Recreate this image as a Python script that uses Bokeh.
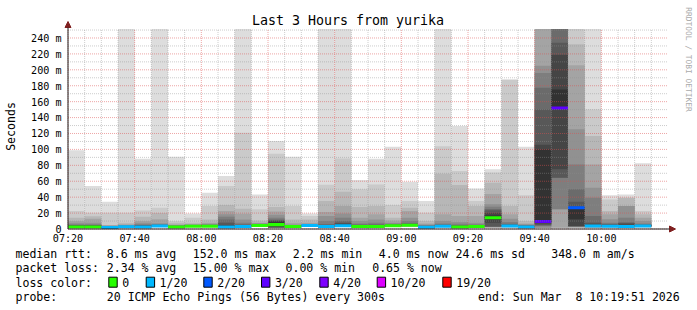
import math
from bokeh.plotting import figure
from bokeh.models import Label, BoxAnnotation, Arrow, NormalHead, Range1d, ColumnDataSource
from bokeh.core.properties import value
from bokeh.embed import file_html
from bokeh.resources import INLINE

# ---------------- data ----------------
times = ["07:20", "07:25", "07:30", "07:35", "07:40", "07:45", "07:50", "07:55",
         "08:00", "08:05", "08:10", "08:15", "08:20", "08:25", "08:30", "08:35",
         "08:40", "08:45", "08:50", "08:55", "09:00", "09:05", "09:10", "09:15",
         "09:20", "09:25", "09:30", "09:35", "09:40", "09:45", "09:50", "09:55",
         "10:00", "10:05", "10:10"]

# median RTT per 5-minute step (ms)
median_ms = [2.5, 2.5, 1.8, 2.8, 2.6, 3.8, 2.5, 3.5, 3.5, 2.5, 3.0, 4.4, 5.5, 3.0,
             4.4, 3.0, 4.0, 3.0, 3.0, 4.0, 4.6, 2.2, 3.5, 2.4, 3.0, 14.2, 3.8, 2.5,
             9.5, 152.0, 26.8, 3.8, 3.5, 3.0, 3.8]

# lost pings out of 20 per step
loss_count = [0, 0, 1, 1, 1, 1, 0, 0, 0, 1, 1, 0, 0, 0, 1, 1, 1, 0, 0, 0, 0, 1, 1,
              0, 0, 0, 1, 1, 3, 3, 2, 1, 1, 1, 1]

# the 20 sorted ping RTTs of each step (ms); None = lost, 300 = off the scale
pings_ms = [
    [1.5, 1.6, 1.7, 1.8, 1.9, 2.0, 2.1, 2.2, 2.3, 2.4, 3.5, 4.0, 4.5, 5.0, 6.0, 8.0, 10.0, 14.2, 22.6, 98.8],
    [1.5, 1.6, 1.7, 1.8, 1.9, 2.0, 2.1, 2.2, 2.3, 2.4, 3.5, 4.0, 4.5, 5.0, 6.0, 8.0, 13.0, 16.0, 20.5, 54.0],
    [1.2, 1.3, 1.4, 1.5, 1.6, 1.7, 1.7, 1.8, 1.8, 1.8, 2.4, 2.6, 2.8, 3.0, 3.5, 4.0, 4.5, 5.0, 20.5, 34.3],
    [1.8, 1.9, 2.0, 2.1, 2.2, 2.3, 2.4, 2.5, 2.6, 2.7, 3.0, 3.3, 3.6, 4.0, 4.5, 5.0, 6.0, 8.0, 20.5, 300],
    [1.6, 1.7, 1.8, 1.9, 2.0, 2.1, 2.2, 2.3, 2.4, 2.5, 3.5, 4.0, 4.5, 5.0, 6.0, 8.0, 10.0, 15.4, 23.4, 88.3],
    [2.2, 2.4, 2.6, 2.8, 3.0, 3.2, 3.4, 3.5, 3.6, 3.7, 4.2, 4.6, 5.0, 5.5, 6.0, 7.1, 12.1, 20.0, 26.8, 300],
    [1.5, 1.6, 1.7, 1.8, 1.9, 2.0, 2.1, 2.2, 2.3, 2.4, 3.0, 3.3, 3.6, 4.0, 4.5, 5.0, 5.8, 8.0, 10.0, 90.8],
    [2.2, 2.4, 2.6, 2.8, 3.0, 3.1, 3.2, 3.3, 3.4, 3.5, 4.2, 4.4, 4.6, 4.8, 5.0, 5.5, 6.0, 8.0, 14.2, 19.6],
    [2.2, 2.4, 2.6, 2.8, 3.0, 3.1, 3.2, 3.3, 3.4, 3.5, 4.0, 4.3, 4.6, 5.0, 5.5, 6.5, 8.0, 12.0, 28.9, 45.6],
    [1.5, 1.6, 1.7, 1.8, 1.9, 2.0, 2.1, 2.2, 2.3, 2.4, 4.0, 5.0, 8.0, 12.0, 15.4, 18.4, 22.6, 30.0, 54.0, 66.6],
    [1.8, 1.9, 2.0, 2.1, 2.2, 2.4, 2.6, 2.8, 2.9, 3.0, 4.0, 4.5, 5.0, 6.0, 8.0, 12.0, 19.2, 25.5, 121.0, 300],
    [2.8, 3.0, 3.2, 3.4, 3.6, 3.8, 4.0, 4.1, 4.2, 4.3, 5.0, 5.5, 5.8, 6.0, 6.5, 7.0, 8.0, 10.8, 24.7, 43.5],
    [1.2, 1.3, 1.4, 1.5, 1.6, 1.7, 1.8, 2.0, 2.5, 5.4, 8.5, 10.0, 11.0, 12.0, 14.2, 18.0, 22.0, 27.6, 94.6, 110.5],
    [1.8, 1.9, 2.0, 2.1, 2.2, 2.4, 2.6, 2.8, 2.9, 3.0, 3.4, 3.7, 4.0, 4.4, 4.8, 5.8, 8.0, 12.0, 28.9, 90.8],
    [2.6, 2.8, 3.0, 3.2, 3.4, 3.6, 3.8, 4.0, 4.2, 4.3, 4.6, 4.8, 5.0, 5.3, 5.8, 6.5, 8.0, 12.0, 16.3, 19.6],
    [1.8, 1.9, 2.0, 2.1, 2.2, 2.4, 2.6, 2.8, 2.9, 3.0, 4.5, 4.9, 5.3, 5.8, 10.0, 16.3, 21.3, 35.1, 55.6, 300],
    [2.2, 2.4, 2.6, 2.8, 3.0, 3.2, 3.4, 3.6, 3.8, 3.9, 5.5, 6.5, 8.0, 10.0, 14.2, 19.6, 28.9, 46.9, 88.7, 300],
    [1.8, 1.9, 2.0, 2.1, 2.2, 2.4, 2.6, 2.8, 2.9, 3.0, 3.8, 4.3, 4.8, 5.5, 7.0, 10.0, 14.2, 27.6, 49.8, 61.5],
    [1.8, 1.9, 2.0, 2.1, 2.2, 2.4, 2.6, 2.8, 2.9, 3.0, 4.0, 4.5, 5.0, 6.0, 8.0, 12.0, 18.4, 28.9, 56.0, 88.3],
    [2.4, 2.6, 2.8, 3.0, 3.2, 3.4, 3.6, 3.8, 3.9, 4.0, 4.5, 4.9, 5.3, 5.8, 6.5, 8.0, 10.8, 14.2, 30.0, 103.4],
    [2.8, 3.0, 3.2, 3.4, 3.6, 3.8, 4.0, 4.2, 4.4, 4.5, 5.1, 5.6, 6.2, 7.5, 10.0, 14.2, 22.6, 26.8, 35.1, 59.4],
    [1.3, 1.4, 1.5, 1.6, 1.7, 1.8, 1.9, 2.0, 2.1, 2.2, 2.9, 3.2, 3.6, 4.0, 4.6, 5.5, 7.0, 10.0, 20.5, 35.1],
    [2.0, 2.2, 2.4, 2.6, 2.8, 3.0, 3.2, 3.3, 3.4, 3.5, 3.9, 4.3, 4.8, 5.5, 7.0, 10.0, 18.4, 69.5, 104.0, 300],
    [1.4, 1.5, 1.6, 1.7, 1.8, 1.9, 2.0, 2.1, 2.2, 2.3, 3.0, 3.5, 4.0, 5.0, 6.5, 8.8, 16.3, 55.2, 72.8, 129.4],
    [1.8, 1.9, 2.0, 2.1, 2.2, 2.4, 2.6, 2.8, 2.9, 3.0, 3.6, 4.0, 4.4, 5.0, 6.0, 8.0, 16.3, 28.9, 35.1, 51.0],
    [1.5, 1.7, 1.9, 2.1, 2.3, 2.5, 2.7, 3.0, 8.0, 12.0, 17.0, 20.0, 23.5, 25.0, 28.0, 31.0, 44.0, 58.0, 71.0, 75.0],
    [1.8, 2.0, 2.2, 2.4, 2.6, 2.8, 3.0, 3.2, 3.4, 3.6, 4.5, 5.0, 5.5, 6.5, 8.8, 13.0, 18.4, 28.9, 188.0, None],
    [1.5, 1.6, 1.7, 1.8, 1.9, 2.0, 2.1, 2.2, 2.3, 2.4, 3.2, 3.5, 4.0, 4.5, 5.0, 6.0, 7.0, 10.0, 42.3, 103.4],
    [None, 1.2, 1.3, 1.4, 1.5, 3.5, 4.0, 5.0, 7.0, 9.5, 100.0, 106.0, 150.0, 177.5, 196.0, 205.0, 300, 300, None, None],
    [None, 1.4, 1.5, 1.6, 24.7, 24.7, 64.5, 64.5, 75.0, 152.0, 175.4, 219.0, 234.0, 300, 300, 300, 300, 300, None, None],
    [None, 1.6, 1.8, 2.0, 2.4, 2.8, 3.2, 3.6, 3.8, 12.1, 26.8, 28.0, 34.3, 49.8, 81.2, 125.2, 205.6, 232.0, 300, None],
    [1.5, 1.7, 1.9, 2.1, 2.3, 2.5, 2.7, 2.9, 3.2, 3.5, 4.5, 5.5, 8.0, 16.3, 39.3, 51.9, 81.2, 116.8, 150.3, 300],
    [1.8, 2.0, 2.2, 2.4, 2.6, 2.8, 3.0, 3.2, 3.3, 3.4, 4.5, 5.0, 5.5, 6.5, 8.0, 12.1, 18.4, 22.6, 37.2, 42.5],
    [1.5, 1.7, 1.9, 2.1, 2.3, 2.5, 2.7, 2.8, 2.9, 3.0, 4.5, 5.5, 8.0, 8.0, 14.2, 28.9, 28.9, 39.3, 39.3, 43.5],
    [2.0, 2.2, 2.4, 2.6, 2.8, 3.0, 3.2, 3.4, 3.6, 3.7, 4.4, 4.8, 5.2, 5.8, 7.0, 10.0, 14.2, 18.4, 22.6, 82.5],
]

x_tick_labels = ["07:20", "07:40", "08:00", "08:20", "08:40", "09:00", "09:20", "09:40", "10:00"]
y_tick_values = [0, 20, 40, 60, 80, 100, 120, 140, 160, 180, 200, 220, 240]
y_tick_labels = ["0", "20 m", "40 m", "60 m", "80 m", "100 m", "120 m", "140 m", "160 m",
                 "180 m", "200 m", "220 m", "240 m"]

loss_levels = [0, 1, 2, 3, 4, 10, 19]
loss_level_labels = ["0", "1/20", "2/20", "3/20", "4/20", "10/20", "19/20"]
loss_colors = ["#26ff00", "#00b8ff", "#0059ff", "#5e00ff", "#7e00ff", "#dd00ff", "#ff0000"]

title_text = "Last 3 Hours from yurika"
stats_rtt = ["8.6 ms avg", "152.0 ms max", "2.2 ms min", "4.0 ms now", "24.6 ms sd", "348.0 m am/s"]
stats_loss = ["2.34 % avg", "15.00 % max", "0.00 % min", "0.65 % now"]
probe_text = "20 ICMP Echo Pings (56 Bytes) every 300s"
end_text = "end: Sun Mar\u00a0 8 10:19:51 2026"

# ---------------- layout ----------------
W, H = 697, 310
X0_PX, Y0_PX = 67.5, 228.5          # page position of 07:20 / 0 ms
SPAN_MIN, Y_TOP = 180, 251.3
PX_PER_MIN = 600 / SPAN_MIN
PX_PER_MS = 200 / Y_TOP
STEP = 5
MED_HALF = 1.9
MONO = "DejaVu Sans Mono"
BASE_FIX = 0.33                      # baseline correction (em) for the renderer


def minutes(t):
    h, m = t.split(":")
    return int(h) * 60 + int(m) - (7 * 60 + 20)


def dx(px):   # page-pixel offset -> minutes
    return px / PX_PER_MIN


def dy(px):   # page-pixel offset (downwards) -> ms
    return -px / PX_PER_MS


x0 = [minutes(t) for t in times]

p = figure(width=W, height=H, min_border=0,
           x_range=Range1d(-dx(X0_PX), dx(W - X0_PX)),
           y_range=Range1d(dy(H - Y0_PX), -dy(Y0_PX)),
           x_axis_location=None, y_axis_location=None,
           toolbar_location=None, output_backend="svg", title=None)
p.grid.visible = False
p.outline_line_color = None
p.background_fill_color = "white"
p.border_fill_color = "white"

# smoke bands (outer -> inner, lighter -> darker)
half = 10
for k in range(1, half + 1):
    g = int(190 / half * (half - k)) + 50
    color = "#%02x%02x%02x" % (g, g, g)
    L, R, B, T = [], [], [], []
    for i, row in enumerate(pings_ms):
        lo, hi = row[k - 1], row[20 - k]
        if lo is None or hi is None:
            continue
        L.append(x0[i]); R.append(x0[i] + STEP)
        B.append(min(lo, Y_TOP)); T.append(min(hi, Y_TOP))
    p.quad(left=L, right=R, bottom=B, top=T, fill_color=color, line_color=None)


def loss_color(n):
    c = loss_colors[0]
    for lv, col in zip(loss_levels, loss_colors):
        if n >= lv:
            c = col
    return c


p.quad(left=x0, right=[x + STEP for x in x0],
       bottom=[max(m - MED_HALF, 0) for m in median_ms], top=[m + MED_HALF for m in median_ms],
       fill_color=[loss_color(n) for n in loss_count], line_color=None)

# grid
x_major = [minutes(t) for t in x_tick_labels]
x_minor = [v for v in range(0, SPAN_MIN, STEP) if v not in x_major]
y_minor = list(range(10, 260, 20))
p.segment(x0=x_minor, x1=x_minor, y0=[0] * len(x_minor), y1=[Y_TOP] * len(x_minor),
          line_color="#8f8f8f", line_alpha=0.45, line_dash="1 1", line_width=1)
p.segment(x0=[0] * len(y_minor), x1=[SPAN_MIN] * len(y_minor), y0=y_minor, y1=y_minor,
          line_color="#8f8f8f", line_alpha=0.45, line_dash="1 1", line_width=1)
p.segment(x0=x_major, x1=x_major, y0=[0] * len(x_major), y1=[Y_TOP] * len(x_major),
          line_color="#de4f4f", line_alpha=0.5, line_dash="1 1", line_width=1)
p.segment(x0=[0] * len(y_tick_values), x1=[SPAN_MIN] * len(y_tick_values),
          y0=y_tick_values, y1=y_tick_values,
          line_color="#de4f4f", line_alpha=0.5, line_dash="1 1", line_width=1)

# axis lines with arrows
p.add_layout(Arrow(x_start=0, y_start=0, x_end=dx(675 - X0_PX), y_end=0,
                   line_color="#1f1f1f", line_width=1,
                   end=NormalHead(size=6, fill_color="#7f1f1f", line_color="#7f1f1f")))
p.add_layout(Arrow(x_start=0, y_start=0, x_end=0, y_end=-dy(Y0_PX - 21),
                   line_color="#1f1f1f", line_width=1,
                   end=NormalHead(size=6, fill_color="#7f1f1f", line_color="#7f1f1f")))

# tick labels
TICK_PX = 10.1
xt = ColumnDataSource(dict(x=x_major, y=[dy(13.3 - BASE_FIX * TICK_PX)] * len(x_major),
                           text=x_tick_labels))
p.text(x="x", y="y", text="text", source=xt, text_font=value(MONO),
       text_font_size=value("%.1fpx" % TICK_PX), text_align="center",
       text_baseline="alphabetic", text_color="black")
yt = ColumnDataSource(dict(x=[dx(-6.5)] * len(y_tick_values),
                           y=[v + dy(3.7 - BASE_FIX * TICK_PX) for v in y_tick_values],
                           text=y_tick_labels))
p.text(x="x", y="y", text="text", source=yt, text_font=value(MONO),
       text_font_size=value("%.1fpx" % TICK_PX), text_align="right",
       text_baseline="alphabetic", text_color="black")


def text(t, cx, cy, size=11.55, align="left", baseline="alphabetic", angle=0.0, color="black"):
    if baseline == "alphabetic":
        cy = cy - BASE_FIX * size
    p.add_layout(Label(x=cx, y=H - cy, x_units="screen", y_units="screen",
                       text=t, text_font=MONO, text_font_size="%.2fpx" % size, text_color=color,
                       text_align=align, text_baseline=baseline, angle=angle))


text(title_text, 347.5, 24, size=13.3, align="center")
text("Seconds", 10.5, 126, align="center", baseline="middle", angle=math.pi / 2)
text("RRDTOOL / TOBI OETIKER", 687.5, 59, size=7.9, align="center",
     baseline="middle", angle=-math.pi / 2, color="#aaaaaa")

rows_y = [257.7, 271.8, 285.9, 300.0]
text("median rtt:", 15, rows_y[0])
for s, x in zip(stats_rtt, [106.3, 192.3, 292.3, 378.3, 455.0, 550.7]):
    text(s, x, rows_y[0])
text("packet loss:", 15, rows_y[1])
for s, x in zip(stats_loss, [106.3, 192.3, 285.0, 371.7]):
    text(s, x, rows_y[1])
text("loss color:", 15, rows_y[2])
for lbl, col, bx in zip(loss_level_labels, loss_colors,
                        [108.3, 145.7, 203.3, 261.0, 319.3, 376.7, 442.3]):
    p.add_layout(BoxAnnotation(left=bx, right=bx + 8.4, top=H - 276.7, bottom=H - 286.7,
                               left_units="screen", right_units="screen",
                               top_units="screen", bottom_units="screen",
                               fill_color=col, fill_alpha=1.0,
                               line_color="black", line_width=1, line_alpha=1.0))
    text(lbl, bx + 13.4, rows_y[2])
text("probe:", 15, rows_y[3])
text(probe_text, 106.3, rows_y[3])
text(end_text, 477.6, rows_y[3])

open("out.html", "w").write(file_html(p, INLINE))
